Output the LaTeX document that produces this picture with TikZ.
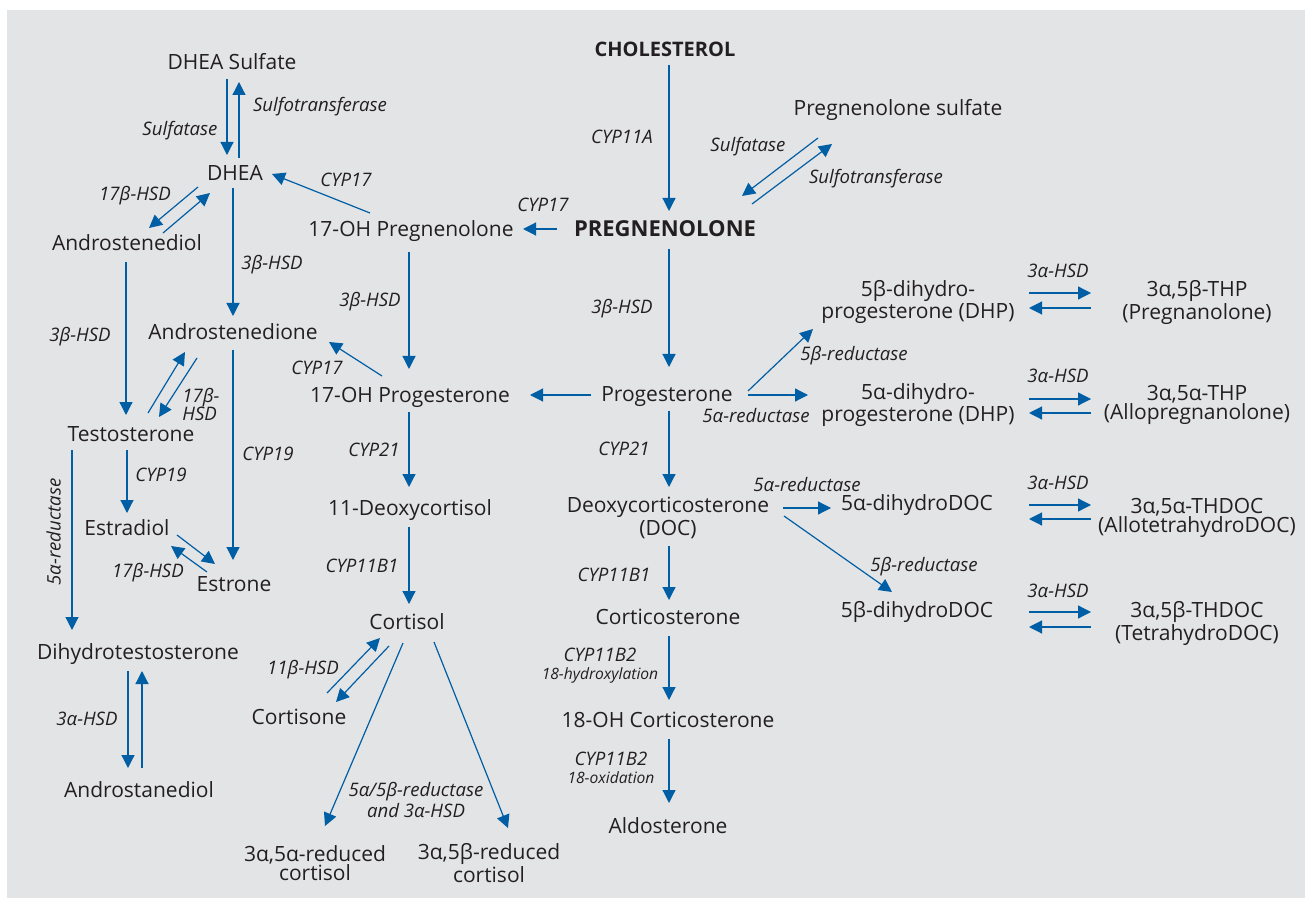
\documentclass[tikz,border=0pt]{standalone}
\usepackage{fontspec}
\setmainfont{Open Sans}
\usetikzlibrary{arrows.meta, calc}

\definecolor{panel}{RGB}{227,228,230}
\definecolor{pathblue}{RGB}{0,94,165}
\definecolor{ink}{RGB}{35,31,32}

\tikzset{
  mol/.style={font=\fontsize{10.5}{12}\selectfont, text=ink, inner sep=0pt, text height=7.5pt, text depth=0pt},
  mol2/.style={font=\fontsize{10.5}{9.5}\selectfont, text=ink, inner sep=0pt, align=center},
  keymol/.style={font=\bfseries\fontsize{10}{12}\selectfont, text=ink, inner sep=0pt, text height=7.2pt, text depth=0pt},
  enz/.style={font=\itshape\fontsize{9.3}{9}\selectfont, text=ink, inner sep=0pt, text height=6.6pt, text depth=0pt},
  enz2/.style={font=\itshape\fontsize{9.3}{9}\selectfont, text=ink, inner sep=0pt, align=center},
  flow/.style={draw=pathblue, line width=0.6pt, -{Triangle[length=6.5pt, width=6.5pt]}},
}

\begin{document}
\begin{tikzpicture}[x=0.5pt, y=-0.5pt]
  \useasboundingbox (0,0) rectangle (1305,898);
  \fill[panel] (7,10) rectangle (1305,898);

  % compounds
  \node[keymol] (chol) at (665,49) {CHOLESTEROL};
  \node[keymol, font=\bfseries\fontsize{11}{13}\selectfont] (preg) at (665,229) {PREGNENOLONE};
  \node[mol] (pregs) at (898,108) {Pregnenolone sulfate};
  \node[mol] (ohpreg) at (411,229) {17-OH Pregnenolone};
  \node[mol] (dheas) at (232,62) {DHEA Sulfate};
  \node[mol] (dhea) at (235,173) {DHEA};
  \node[mol] (adiol) at (127,243) {Androstenediol};
  \node[mol] (adione) at (233,332) {Androstenedione};
  \node[mol] (testo) at (131,434) {Testosterone};
  \node[mol] (estra) at (127,528) {Estradiol};
  \node[mol] (estro) at (234,584) {Estrone};
  \node[mol] (dht) at (138,652) {Dihydrotestosterone};
  \node[mol] (adiolb) at (139,790) {Androstanediol};
  \node[mol] (ohprog) at (410,395) {17-OH Progesterone};
  \node[mol] (deoxy) at (410,508) {11-Deoxycortisol};
  \node[mol] (cort) at (407,622) {Cortisol};
  \node[mol] (cortn) at (299,717) {Cortisone};
  \node[mol2] (red5a) at (315,863) {3α,5α-reduced\\cortisol};
  \node[mol2] (red5b) at (489,863) {3α,5β-reduced\\cortisol};
  \node[mol] (prog) at (667,394) {Progesterone};
  \node[mol2] (doc) at (668,518) {Deoxycorticosterone\\(DOC)};
  \node[mol] (corticost) at (668,617) {Corticosterone};
  \node[mol] (ohcort) at (668,720) {18-OH Corticosterone};
  \node[mol] (aldo) at (668,826) {Aldosterone};
  \node[mol2] (dhp5b) at (918,302) {5β-dihydro-\\progesterone (DHP)};
  \node[mol2] (dhp5a) at (918,405) {5α-dihydro-\\progesterone (DHP)};
  \node[mol] (ddoc5a) at (917,503) {5α-dihydroDOC};
  \node[mol] (ddoc5b) at (917,610) {5β-dihydroDOC};
  \node[mol2] (thp5b) at (1197,302) {3α,5β-THP\\(Pregnanolone)};
  \node[mol2] (thp5a) at (1197,405) {3α,5α-THP\\(Allopregnanolone)};
  \node[mol2] (thdoc5a) at (1197,518) {3α,5α-THDOC\\(AllotetrahydroDOC)};
  \node[mol2] (thdoc5b) at (1197,623) {3α,5β-THDOC\\(TetrahydroDOC)};

  % enzymes
  \node[enz] (e1) at (622,137) {CYP11A};
  \node[enz] (e2) at (748,145) {Sulfatase};
  \node[enz] (e3) at (876,177) {Sulfotransferase};
  \node[enz] (e4) at (543,205) {CYP17};
  \node[enz] (e5) at (346,180) {CYP17};
  \node[enz] (e6) at (180,129) {Sulfatase};
  \node[enz] (e7) at (320,105) {Sulfotransferase};
  \node[enz] (e8) at (135,194) {17β-HSD};
  \node[enz] (e9) at (272,263) {3β-HSD};
  \node[enz] (e10) at (370,300) {3β-HSD};
  \node[enz] (e11) at (80,335) {3β-HSD};
  \node[enz2, align=left, anchor=west] (e12) at (182,404) {17β-\\HSD};
  \node[enz] (e13) at (317,368) {CYP17};
  \node[enz] (e14) at (268,454) {CYP19};
  \node[enz] (e15) at (161,475) {CYP19};
  \node[enz] (e16) at (148,571) {17β-HSD};
  \node[enz, rotate=90] (e17) at (54,532) {5α-reductase};
  \node[enz] (e18) at (374,450) {CYP21};
  \node[enz] (e19) at (362,566) {CYP11B1};
  \node[enz] (e20) at (87,719) {3α-HSD};
  \node[enz] (e21) at (303,668) {11β-HSD};
  \node[enz2] (e22) at (416,800) {5α/5β-reductase\\and 3α-HSD};
  \node[enz] (e23) at (622,307) {3β-HSD};
  \node[enz] (e24) at (854,354) {5β-reductase};
  \node[enz] (e25) at (756,416) {5α-reductase};
  \node[enz] (e26) at (624,449) {CYP21};
  \node[enz] (e27) at (807,485) {5α-reductase};
  \node[enz] (e28) at (924,565) {5β-reductase};
  \node[enz] (e29) at (614,575) {CYP11B1};
  \node[enz2] (e30) at (600,666) {CYP11B2\\{\fontsize{7.8}{9}\selectfont 18-hydroxylation}};
  \node[enz2] (e31) at (611,768) {CYP11B2\\{\fontsize{7.8}{9}\selectfont 18-oxidation}};
  \node[enz] (e32) at (1058,271) {3α-HSD};
  \node[enz] (e33) at (1058,376) {3α-HSD};
  \node[enz] (e34) at (1058,483) {3α-HSD};
  \node[enz] (e35) at (1058,591) {3α-HSD};

  % reactions
  \draw
  ($(chol)+(4,16)$) edge[flow] ($(preg)+(4,-18)$)
  ($(pregs)+(-80,30)$) edge[flow] ($(preg)+(77,-33)$)
  ($(preg)+(87,-25)$) edge[flow] ($(pregs)+(-66,36)$)
  ($(preg)+(-108,0)$) edge[flow] ($(ohpreg)+(112,0)$)
  ($(ohpreg)+(-41,-16)$) edge[flow] ($(dhea)+(37,1)$)
  ($(dheas)+(-5,17)$) edge[flow] ($(dhea)+(-8,-18)$)
  ($(dhea)+(4,-15)$) edge[flow] ($(dheas)+(7,20)$)
  ($(dhea)+(-37,14)$) edge[flow] ($(adiol)+(22,-15)$)
  ($(adiol)+(36,-10)$) edge[flow] ($(dhea)+(-25,20)$)
  ($(dhea)+(-2,15)$) edge[flow] ($(adione)+(0,-16)$)
  ($(ohpreg)+(-2,23)$) edge[flow] ($(ohprog)+(-1,-26)$)
  ($(adiol)+(-1,19)$) edge[flow] ($(testo)+(-5,-19)$)
  ($(testo)+(17,-21)$) edge[flow] ($(adione)+(-48,20)$)
  ($(adione)+(-36,26)$) edge[flow] ($(testo)+(28,-17)$)
  ($(ohprog)+(-28,-19)$) edge[flow] ($(adione)+(96,10)$)
  ($(prog)+(-76,1)$) edge[flow] ($(ohprog)+(120,0)$)
  ($(adione)+(0,18)$) edge[flow] ($(estro)+(-1,-24)$)
  ($(testo)+(-4,16)$) edge[flow] ($(estra)+(0,-15)$)
  ($(estra)+(50,7)$) edge[flow] ($(estro)+(-19,-20)$)
  ($(estro)+(-27,-12)$) edge[flow] ($(estra)+(44,18)$)
  ($(testo)+(-59,16)$) edge[flow] ($(dht)+(-66,-22)$)
  ($(dht)+(-10,19)$) edge[flow] ($(adiolb)+(-11,-22)$)
  ($(adiolb)+(3,-22)$) edge[flow] ($(dht)+(4,19)$)
  ($(ohprog)+(-1,17)$) edge[flow] ($(deoxy)+(-1,-21)$)
  ($(deoxy)+(-1,19)$) edge[flow] ($(cort)+(2,-18)$)
  ($(cortn)+(28,-24)$) edge[flow] ($(cort)+(-27,16)$)
  ($(cort)+(-18,24)$) edge[flow] ($(cortn)+(37,-15)$)
  ($(cort)+(-4,21)$) edge[flow] ($(red5a)+(10,-37)$)
  ($(cort)+(27,20)$) edge[flow] ($(red5b)+(19,-35)$)
  ($(preg)+(4,20)$) edge[flow] ($(prog)+(2,-27)$)
  ($(prog)+(81,-3)$) edge[flow] ($(dhp5b)+(-105,27)$)
  ($(prog)+(81,1)$) edge[flow] ($(dhp5a)+(-110,-10)$)
  ($(prog)+(2,17)$) edge[flow] ($(doc)+(1,-31)$)
  ($(doc)+(115,-10)$) edge[flow] ($(ddoc5a)+(-86,5)$)
  ($(doc)+(116,-2)$) edge[flow] ($(ddoc5b)+(-25,-18)$)
  ($(doc)+(1,28)$) edge[flow] ($(corticost)+(1,-17)$)
  ($(corticost)+(1,19)$) edge[flow] ($(ohcort)+(1,-20)$)
  ($(ohcort)+(1,19)$) edge[flow] ($(aldo)+(1,-23)$)
  ($(dhp5b)+(111,-9)$) edge[flow] ($(thp5b)+(-106,-9)$)
  ($(thp5b)+(-106,6)$) edge[flow] ($(dhp5b)+(111,6)$)
  ($(dhp5a)+(111,-6)$) edge[flow] ($(thp5a)+(-106,-6)$)
  ($(thp5a)+(-106,8)$) edge[flow] ($(dhp5a)+(111,8)$)
  ($(ddoc5a)+(112,2)$) edge[flow] ($(thdoc5a)+(-106,-13)$)
  ($(thdoc5a)+(-106,1)$) edge[flow] ($(ddoc5a)+(112,16)$)
  ($(ddoc5b)+(112,2)$) edge[flow] ($(thdoc5b)+(-106,-11)$)
  ($(thdoc5b)+(-106,4)$) edge[flow] ($(ddoc5b)+(112,17)$);
\end{tikzpicture}
\end{document}
